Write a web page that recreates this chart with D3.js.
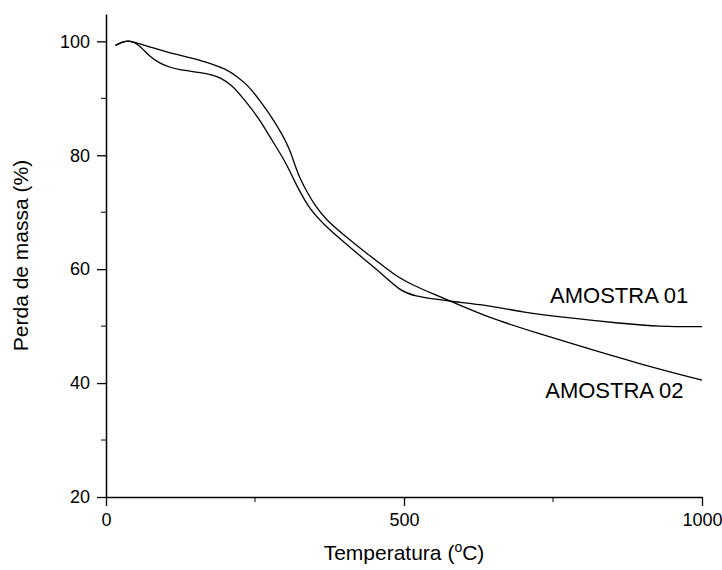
<!DOCTYPE html>
<html>
<head>
<meta charset="utf-8">
<script src="https://cdn.jsdelivr.net/npm/d3@7"></script>
<style>
  body { margin: 0; background: #fff; }
  svg text { font-family: "Liberation Sans", Arial, sans-serif; fill: #000; }
</style>
</head>
<body>
<div id="chart"></div>
<script>
// temperature (°C) and mass (%)
const temp01 = [16, 30, 40, 54, 74, 91, 108, 124, 140, 158, 175, 191, 213, 230, 256, 275, 292, 306, 317, 326, 342, 365, 393, 437, 465, 493, 520, 550, 580, 639, 695, 779, 862, 930, 1000];
const mass01 = [99.3, 100.0, 100.1, 99.6, 97.2, 96.1, 95.4, 95.0, 94.8, 94.5, 94.2, 93.7, 92.2, 90.0, 86.6, 83.2, 80.4, 77.8, 75.3, 73.5, 70.5, 67.9, 65.3, 61.4, 59.0, 56.2, 55.2, 54.8, 54.3, 53.7, 52.5, 51.4, 50.5, 49.9, 49.9];

const temp02 = [16, 30, 40, 55, 74, 102, 146, 174, 202, 220, 240, 258, 278, 295, 309, 317, 326, 337, 351, 370, 398, 437, 471, 493, 515, 550, 580, 639, 723, 807, 891, 1000];
const mass02 = [99.3, 100.0, 100.1, 99.6, 99.0, 98.1, 97.0, 96.2, 95.1, 93.8, 92.1, 89.6, 86.7, 83.8, 80.9, 78.2, 75.8, 73.6, 71.1, 68.6, 66.1, 62.8, 60.1, 58.4, 57.2, 55.6, 54.3, 51.6, 48.8, 46.1, 43.5, 40.5];

const seriesNames = ["AMOSTRA 01", "AMOSTRA 02"];
const labelAt = [[745, 54.0], [737, 37.4]]; // label anchors in data units

const xMajor = [0, 500, 1000];
const xMinor = [250, 750];
const yMajor = [20, 40, 60, 80, 100];
const yMinor = [30, 50, 70, 90];

const width = 722,
  height = 570;

const svg = d3
  .select("#chart")
  .append("svg")
  .attr("width", width)
  .attr("height", height);

const x = d3.scaleLinear().domain([0, 1000]).range([106, 702]);
const y = d3.scaleLinear().domain([20, 104.8]).range([497, 14]);

// axes
const xAxis = svg
  .append("g")
  .attr("transform", `translate(0,${y(20)})`)
  .call(d3.axisBottom(x).tickValues(xMajor).tickSize(9).tickSizeOuter(0).tickPadding(7).tickFormat(d3.format("d")));
xAxis
  .append("g")
  .selectAll("line")
  .data(xMinor)
  .enter()
  .append("line")
  .attr("x1", (d) => x(d))
  .attr("x2", (d) => x(d))
  .attr("y2", 5)
  .attr("stroke", "#000");

const yAxis = svg
  .append("g")
  .attr("transform", `translate(${x(0)},0)`)
  .call(d3.axisLeft(y).tickValues(yMajor).tickSize(9).tickSizeOuter(0).tickPadding(7));
yAxis
  .append("g")
  .selectAll("line")
  .data(yMinor)
  .enter()
  .append("line")
  .attr("y1", (d) => y(d))
  .attr("y2", (d) => y(d))
  .attr("x2", -5)
  .attr("stroke", "#000");

svg.selectAll(".domain").attr("stroke-width", 1.5);
svg.selectAll(".tick line").attr("stroke-width", 1.3);
svg.selectAll(".tick text").style("font-size", "18px").style("font-family", "Liberation Sans, Arial, sans-serif");

// curves
const line = d3
  .line()
  .x((d) => x(d[0]))
  .y((d) => y(d[1]))
  .curve(d3.curveBasis);

const series = [d3.zip(temp01, mass01), d3.zip(temp02, mass02)];

svg
  .selectAll(".curve")
  .data(series)
  .enter()
  .append("path")
  .attr("class", "curve")
  .attr("d", line)
  .attr("fill", "none")
  .attr("stroke", "#000")
  .attr("stroke-width", 1.3);

svg
  .selectAll(".lbl")
  .data(seriesNames)
  .enter()
  .append("text")
  .attr("class", "lbl")
  .attr("x", (d, i) => x(labelAt[i][0]))
  .attr("y", (d, i) => y(labelAt[i][1]))
  .style("font-size", "22px")
  .text((d) => d);

// axis titles
const xt = svg
  .append("text")
  .attr("x", (x(0) + x(1000)) / 2)
  .attr("y", 560)
  .attr("text-anchor", "middle")
  .style("font-size", "21px");
xt.append("tspan").text("Temperatura (");
xt.append("tspan").attr("baseline-shift", "super").style("font-size", "14px").text("o");
xt.append("tspan").text("C)");

svg
  .append("text")
  .attr("transform", `translate(28,${(y(20) + y(104.8)) / 2}) rotate(-90)`)
  .attr("text-anchor", "middle")
  .style("font-size", "21px")
  .text("Perda de massa (%)");
</script>
</body>
</html>
